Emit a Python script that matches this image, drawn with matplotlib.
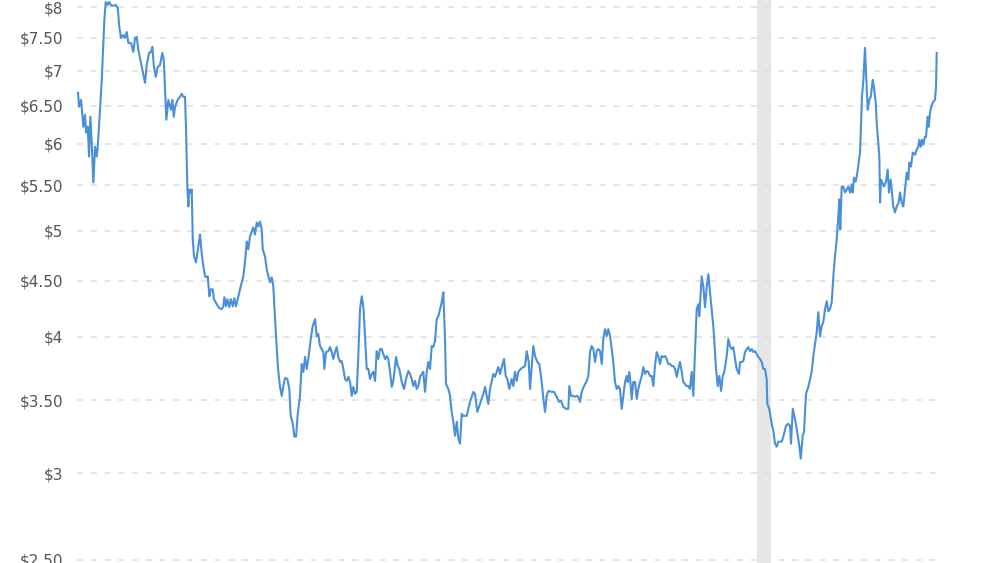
import matplotlib
matplotlib.use("Agg")
import matplotlib.pyplot as plt
from matplotlib.ticker import NullLocator, NullFormatter

# Time in decimal years, price in USD (log-scaled chart)
years = [
    2012.186, 2012.198, 2012.221, 2012.248, 2012.267, 2012.279, 2012.299, 2012.314, 2012.329, 2012.345,
    2012.364, 2012.384, 2012.403, 2012.415, 2012.430, 2012.462, 2012.492, 2012.508, 2012.531, 2012.547,
    2012.578, 2012.624, 2012.648, 2012.666, 2012.686, 2012.713, 2012.733, 2012.752, 2012.771, 2012.802,
    2012.829, 2012.849, 2012.869, 2012.887, 2012.927, 2012.965, 2012.985, 2013.012, 2013.035, 2013.050,
    2013.066, 2013.090, 2013.113, 2013.140, 2013.166, 2013.183, 2013.198, 2013.213, 2013.236, 2013.267,
    2013.283, 2013.299, 2013.314, 2013.345, 2013.372, 2013.392, 2013.410, 2013.430, 2013.442, 2013.457,
    2013.469, 2013.480, 2013.497, 2013.508, 2013.520, 2013.535, 2013.558, 2013.585, 2013.605, 2013.616,
    2013.636, 2013.663, 2013.683, 2013.694, 2013.713, 2013.729, 2013.752, 2013.767, 2013.799, 2013.829,
    2013.857, 2013.876, 2013.887, 2013.907, 2013.922, 2013.945, 2013.962, 2013.985, 2014.003, 2014.023,
    2014.050, 2014.078, 2014.108, 2014.128, 2014.148, 2014.166, 2014.186, 2014.206, 2014.224, 2014.244,
    2014.264, 2014.283, 2014.302, 2014.322, 2014.334, 2014.360, 2014.380, 2014.399, 2014.419, 2014.438,
    2014.457, 2014.477, 2014.497, 2014.512, 2014.535, 2014.555, 2014.573, 2014.593, 2014.620, 2014.643,
    2014.659, 2014.683, 2014.701, 2014.721, 2014.741, 2014.767, 2014.787, 2014.806, 2014.826, 2014.845,
    2014.864, 2014.892, 2014.915, 2014.942, 2014.962, 2014.980, 2015.000, 2015.020, 2015.038, 2015.050,
    2015.070, 2015.097, 2015.116, 2015.136, 2015.155, 2015.174, 2015.194, 2015.213, 2015.233, 2015.252,
    2015.271, 2015.291, 2015.310, 2015.329, 2015.349, 2015.369, 2015.387, 2015.407, 2015.427, 2015.445,
    2015.465, 2015.485, 2015.504, 2015.523, 2015.543, 2015.562, 2015.581, 2015.601, 2015.620, 2015.640,
    2015.659, 2015.678, 2015.698, 2015.717, 2015.736, 2015.756, 2015.776, 2015.794, 2015.814, 2015.834,
    2015.852, 2015.884, 2015.904, 2015.922, 2015.950, 2015.977, 2016.000, 2016.027, 2016.047, 2016.066,
    2016.085, 2016.105, 2016.124, 2016.143, 2016.163, 2016.183, 2016.201, 2016.221, 2016.241, 2016.259,
    2016.279, 2016.299, 2016.317, 2016.337, 2016.357, 2016.376, 2016.395, 2016.415, 2016.434, 2016.453,
    2016.465, 2016.492, 2016.512, 2016.531, 2016.550, 2016.570, 2016.590, 2016.608, 2016.628, 2016.648,
    2016.666, 2016.706, 2016.744, 2016.783, 2016.802, 2016.829, 2016.860, 2016.899, 2016.919, 2016.938,
    2016.957, 2016.977, 2017.015, 2017.035, 2017.073, 2017.093, 2017.113, 2017.140, 2017.159, 2017.178,
    2017.201, 2017.229, 2017.248, 2017.267, 2017.287, 2017.306, 2017.334, 2017.364, 2017.384, 2017.404,
    2017.427, 2017.442, 2017.462, 2017.480, 2017.500, 2017.527, 2017.550, 2017.578, 2017.597, 2017.616,
    2017.636, 2017.655, 2017.694, 2017.721, 2017.752, 2017.779, 2017.802, 2017.829, 2017.860, 2017.887,
    2017.899, 2017.919, 2017.945, 2017.965, 2017.985, 2018.003, 2018.023, 2018.043, 2018.070, 2018.101,
    2018.120, 2018.140, 2018.159, 2018.178, 2018.198, 2018.218, 2018.236, 2018.256, 2018.276, 2018.294,
    2018.314, 2018.334, 2018.352, 2018.372, 2018.392, 2018.410, 2018.430, 2018.450, 2018.469, 2018.488,
    2018.508, 2018.527, 2018.547, 2018.566, 2018.578, 2018.597, 2018.613, 2018.624, 2018.643, 2018.663,
    2018.683, 2018.701, 2018.721, 2018.741, 2018.759, 2018.779, 2018.799, 2018.817, 2018.837, 2018.857,
    2018.876, 2018.895, 2018.915, 2018.934, 2018.953, 2018.973, 2018.992, 2019.012, 2019.031, 2019.050,
    2019.070, 2019.090, 2019.108, 2019.128, 2019.148, 2019.166, 2019.186, 2019.206, 2019.224, 2019.244,
    2019.264, 2019.283, 2019.302, 2019.322, 2019.341, 2019.360, 2019.380, 2019.399, 2019.410, 2019.438,
    2019.457, 2019.477, 2019.497, 2019.515, 2019.535, 2019.555, 2019.573, 2019.581, 2019.605, 2019.624,
    2019.643, 2019.663, 2019.683, 2019.701, 2019.729, 2019.748, 2019.767, 2019.787, 2019.806, 2019.826,
    2019.845, 2019.872, 2019.884, 2019.904, 2019.922, 2019.942, 2019.962, 2019.980, 2020.000, 2020.020,
    2020.038, 2020.058, 2020.078, 2020.097, 2020.116, 2020.136, 2020.155, 2020.174, 2020.194, 2020.201,
    2020.224, 2020.252, 2020.271, 2020.291, 2020.310, 2020.329, 2020.369, 2020.387, 2020.419, 2020.445,
    2020.465, 2020.477, 2020.497, 2020.523, 2020.543, 2020.573, 2020.590, 2020.613, 2020.628, 2020.651,
    2020.678, 2020.698, 2020.717, 2020.736, 2020.756, 2020.776, 2020.794, 2020.814, 2020.834, 2020.852,
    2020.872, 2020.892, 2020.910, 2020.930, 2020.950, 2020.969, 2020.988, 2021.008, 2021.027, 2021.038,
    2021.050, 2021.066, 2021.085, 2021.105, 2021.124, 2021.143, 2021.163, 2021.183, 2021.194, 2021.209,
    2021.229, 2021.248, 2021.264, 2021.279, 2021.291, 2021.302, 2021.318, 2021.337, 2021.349, 2021.369,
    2021.387, 2021.404, 2021.427, 2021.442, 2021.462, 2021.473, 2021.492, 2021.504, 2021.512, 2021.523,
    2021.538, 2021.558, 2021.581, 2021.601, 2021.616, 2021.636, 2021.651, 2021.666, 2021.686, 2021.706,
    2021.729, 2021.744, 2021.764, 2021.783, 2021.802, 2021.822, 2021.841, 2021.853, 2021.872, 2021.892,
    2021.919, 2021.938, 2021.957, 2021.969, 2021.985, 2022.000, 2022.015, 2022.035, 2022.047, 2022.066,
    2022.078, 2022.093, 2022.113, 2022.132, 2022.151, 2022.163, 2022.171,
]

prices = [
    6.683, 6.489, 6.585, 6.222, 6.381, 6.144, 6.222, 5.843, 6.354, 6.016,
    5.532, 5.966, 5.843, 5.966, 6.222, 6.867, 7.789, 8.090, 8.039, 8.090,
    8.022, 8.039, 7.989, 7.675, 7.500, 7.548, 7.500, 7.595, 7.422, 7.422,
    7.283, 7.500, 7.516, 7.314, 7.057, 6.824, 7.087, 7.268, 7.283, 7.360,
    7.087, 6.911, 7.057, 7.087, 7.268, 7.162, 6.725, 6.314, 6.585, 6.448,
    6.585, 6.354, 6.489, 6.585, 6.627, 6.669, 6.627, 6.627, 6.183, 5.486,
    5.261, 5.452, 5.418, 5.452, 4.908, 4.736, 4.677, 4.837, 4.960, 4.837,
    4.677, 4.542, 4.532, 4.542, 4.355, 4.419, 4.419, 4.328, 4.282, 4.247,
    4.238, 4.264, 4.346, 4.264, 4.328, 4.256, 4.328, 4.264, 4.337, 4.264,
    4.355, 4.447, 4.542, 4.687, 4.888, 4.806, 4.939, 4.991, 5.033, 4.960,
    5.086, 5.044, 5.097, 5.012, 4.806, 4.736, 4.609, 4.542, 4.485, 4.532,
    4.447, 4.150, 3.897, 3.737, 3.598, 3.531, 3.605, 3.667, 3.659, 3.583,
    3.386, 3.330, 3.241, 3.241, 3.400, 3.531, 3.776, 3.714, 3.832, 3.737,
    3.816, 3.979, 4.090, 4.150, 4.004, 4.021, 3.922, 3.897, 3.872, 3.737,
    3.872, 3.880, 3.913, 3.872, 3.816, 3.872, 3.913, 3.832, 3.792, 3.800,
    3.737, 3.659, 3.644, 3.675, 3.636, 3.531, 3.598, 3.546, 3.561, 3.840,
    4.238, 4.355, 4.256, 4.004, 3.737, 3.737, 3.659, 3.698, 3.714, 3.644,
    3.880, 3.816, 3.897, 3.897, 3.856, 3.816, 3.840, 3.816, 3.714, 3.598,
    3.644, 3.832, 3.760, 3.737, 3.636, 3.583, 3.659, 3.721, 3.698, 3.659,
    3.605, 3.644, 3.583, 3.605, 3.675, 3.698, 3.714, 3.561, 3.714, 3.792,
    3.737, 3.922, 3.913, 3.963, 4.150, 4.176, 4.238, 4.300, 4.392, 3.979,
    3.621, 3.583, 3.531, 3.414, 3.344, 3.247, 3.344, 3.227, 3.193, 3.400,
    3.386, 3.386, 3.487, 3.561, 3.546, 3.414, 3.472, 3.546, 3.598, 3.531,
    3.472, 3.583, 3.698, 3.675, 3.752, 3.698, 3.752, 3.816, 3.682, 3.659,
    3.583, 3.659, 3.605, 3.714, 3.644, 3.714, 3.737, 3.752, 3.760, 3.880,
    3.792, 3.583, 3.760, 3.922, 3.840, 3.792, 3.776, 3.636, 3.509, 3.414,
    3.531, 3.568, 3.561, 3.561, 3.524, 3.487, 3.494, 3.450, 3.436, 3.436,
    3.605, 3.531, 3.531, 3.524, 3.531, 3.524, 3.487, 3.561, 3.605, 3.644,
    3.682, 3.872, 3.922, 3.897, 3.792, 3.880, 3.897, 3.880, 3.776, 3.979,
    4.064, 4.004, 4.064, 4.004, 3.897, 3.792, 3.636, 3.583, 3.605, 3.583,
    3.436, 3.531, 3.636, 3.682, 3.636, 3.714, 3.605, 3.509, 3.636, 3.636,
    3.509, 3.583, 3.636, 3.682, 3.752, 3.698, 3.721, 3.714, 3.682, 3.682,
    3.605, 3.760, 3.872, 3.840, 3.776, 3.840, 3.832, 3.840, 3.816, 3.776,
    3.776, 3.760, 3.760, 3.737, 3.675, 3.737, 3.792, 3.714, 3.636, 3.621,
    3.605, 3.605, 3.583, 3.714, 3.531, 3.872, 4.238, 4.282, 4.176, 4.542,
    4.447, 4.256, 4.447, 4.561, 4.392, 4.238, 4.090, 4.004, 3.737, 3.605,
    3.682, 3.568, 3.682, 3.714, 3.840, 3.979, 3.922, 3.897, 3.913, 3.816,
    3.737, 3.698, 3.792, 3.792, 3.800, 3.872, 3.897, 3.913, 3.880, 3.897,
    3.872, 3.880, 3.856, 3.832, 3.816, 3.792, 3.737, 3.737, 3.659, 3.472,
    3.436, 3.330, 3.281, 3.193, 3.173, 3.207, 3.207, 3.241, 3.316, 3.330,
    3.316, 3.193, 3.436, 3.365, 3.295, 3.180, 3.094, 3.247, 3.275, 3.546,
    3.598, 3.659, 3.714, 3.840, 3.938, 4.038, 4.211, 4.004, 4.090, 4.124,
    4.238, 4.310, 4.220, 4.238, 4.300, 4.542, 4.736, 4.908, 5.151, 5.338,
    5.012, 5.486, 5.486, 5.418, 5.452, 5.486, 5.418, 5.509, 5.418, 5.590,
    5.544, 5.649, 5.769, 5.891, 6.274, 6.627, 6.867, 7.345, 6.969, 6.448,
    6.585, 6.627, 6.867, 6.753, 6.544, 6.274, 6.016, 5.843, 5.305, 5.567,
    5.532, 5.486, 5.544, 5.685, 5.418, 5.567, 5.418, 5.261, 5.195, 5.261,
    5.305, 5.418, 5.305, 5.261, 5.452, 5.649, 5.567, 5.769, 5.721, 5.891,
    5.867, 5.929, 5.966, 6.054, 5.966, 6.054, 5.991, 6.093, 6.093, 6.354,
    6.222, 6.408, 6.516, 6.557, 6.585, 6.767, 7.268,
]

tick_values = [2.5, 3, 3.5, 4, 4.5, 5, 5.5, 6, 6.5, 7, 7.5, 8]
tick_labels = ["$2.50", "$3", "$3.50", "$4", "$4.50", "$5", "$5.50",
               "$6", "$6.50", "$7", "$7.50", "$8"]
recession = (2020.081, 2020.244)
x_range = (2012.174, 2022.186)
y_range = (2.484, 8.124)

plt.rcParams['font.family'] = ['DejaVu Sans']

fig = plt.figure(figsize=(10, 5.63), dpi=100)
ax = fig.add_axes([0.077, 0.0, 0.861, 1.0])
ax.set_yscale('log')
ax.axvspan(recession[0], recession[1], color='#e6e6e6', lw=0, zorder=0)
ax.plot(years, prices, color='#4a90d9', lw=1.5, zorder=3, solid_joinstyle='round')
ax.set_xlim(x_range)
ax.set_ylim(y_range)

ax.set_yticks(tick_values, labels=tick_labels)
ax.yaxis.set_minor_locator(NullLocator())
ax.yaxis.set_minor_formatter(NullFormatter())
ax.set_xticks([])
ax.tick_params(axis='y', length=0, pad=10, labelsize=11, labelcolor='#555555')
ax.grid(axis='y', color='#dedede', lw=1.1, linestyle=(0, (4, 5)), zorder=1)
ax.set_axisbelow(False)
for s in ax.spines.values():
    s.set_visible(False)

fig.savefig('out.png', dpi=100)
